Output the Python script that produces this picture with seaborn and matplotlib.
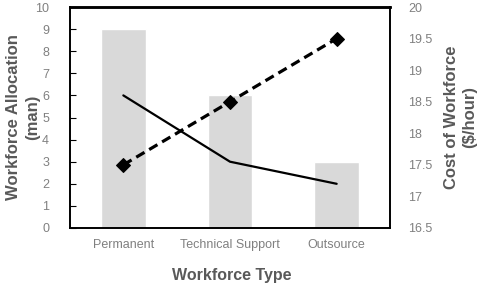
import matplotlib
matplotlib.use("Agg")
import matplotlib.pyplot as plt
import seaborn as sns
import pandas as pd

categories = ["Permanent", "Technical Support", "Outsource"]
allocation = [9, 6, 3]
allocation_line = [6, 3, 2]
cost = [17.5, 18.5, 19.5]
left_ticks = list(range(0, 11))
right_ticks = [16.5, 17, 17.5, 18, 18.5, 19, 19.5, 20]

sns.set_theme(style="white")
plt.rcParams['font.family'] = ['Liberation Sans', 'DejaVu Sans']

df = pd.DataFrame({"type": categories, "alloc": allocation,
                   "line": allocation_line, "cost": cost})

W, H = 481, 290
fig = plt.figure(figsize=(W/100, H/100), dpi=100)
ax = fig.add_axes([70/W, 1-228/H, 320/W, 221/H])

sns.barplot(data=df, x="type", y="alloc", color="#d9d9d9", width=0.42,
            saturation=1, ax=ax, zorder=1)
sns.lineplot(x=[0, 1, 2], y=df["line"], color="black", linewidth=1.6,
             ax=ax, zorder=3)
ax.set_xlim(-0.5, 2.5)
ax.set_ylim(0, 10)
ax.set_yticks(left_ticks)
ax.set_xticks([0, 1, 2])
ax.set_xticklabels(categories)

ax2 = ax.twinx()
sns.lineplot(x=[0, 1, 2], y=df["cost"], color="black", linewidth=2.3,
             linestyle=(0, (3, 1.7)), marker="D", markersize=7,
             markeredgecolor="black", ax=ax2, zorder=3)
ax2.set_ylim(16.5, 20)
ax2.set_yticks(right_ticks)
ax2.set_yticklabels([f"{t:g}" for t in right_ticks])

grey = "#595959"
tickgrey = "#808080"
ax.set_ylabel("Workforce Allocation\n(man)", fontsize=12, fontweight="bold",
              color=grey, linespacing=1.35)
ax.yaxis.set_label_coords(-0.094, 0.5)
ax.set_xlabel("Workforce Type", fontsize=11.5, fontweight="bold", color=grey)
ax.xaxis.set_label_coords(0.505, -0.181)
ax2.set_ylabel("Cost of Workforce\n($/hour)", fontsize=12, fontweight="bold",
               color=grey, linespacing=1.25)
ax2.yaxis.set_label_coords(1.168, 0.5)

ax.tick_params(axis="y", direction="in", length=4, labelcolor=tickgrey,
               labelsize=9, pad=15, color="black", width=0.8)
ax.tick_params(axis="x", length=0, labelcolor=tickgrey, labelsize=9, pad=8)
ax2.tick_params(axis="y", length=0, labelcolor=tickgrey, labelsize=9, pad=13)

for a in (ax, ax2):
    for s in a.spines.values():
        s.set_color("black")
        s.set_linewidth(1.2)
    a.spines["top"].set_linewidth(1.8)
    a.grid(False)

fig.savefig("out.png", dpi=100)
